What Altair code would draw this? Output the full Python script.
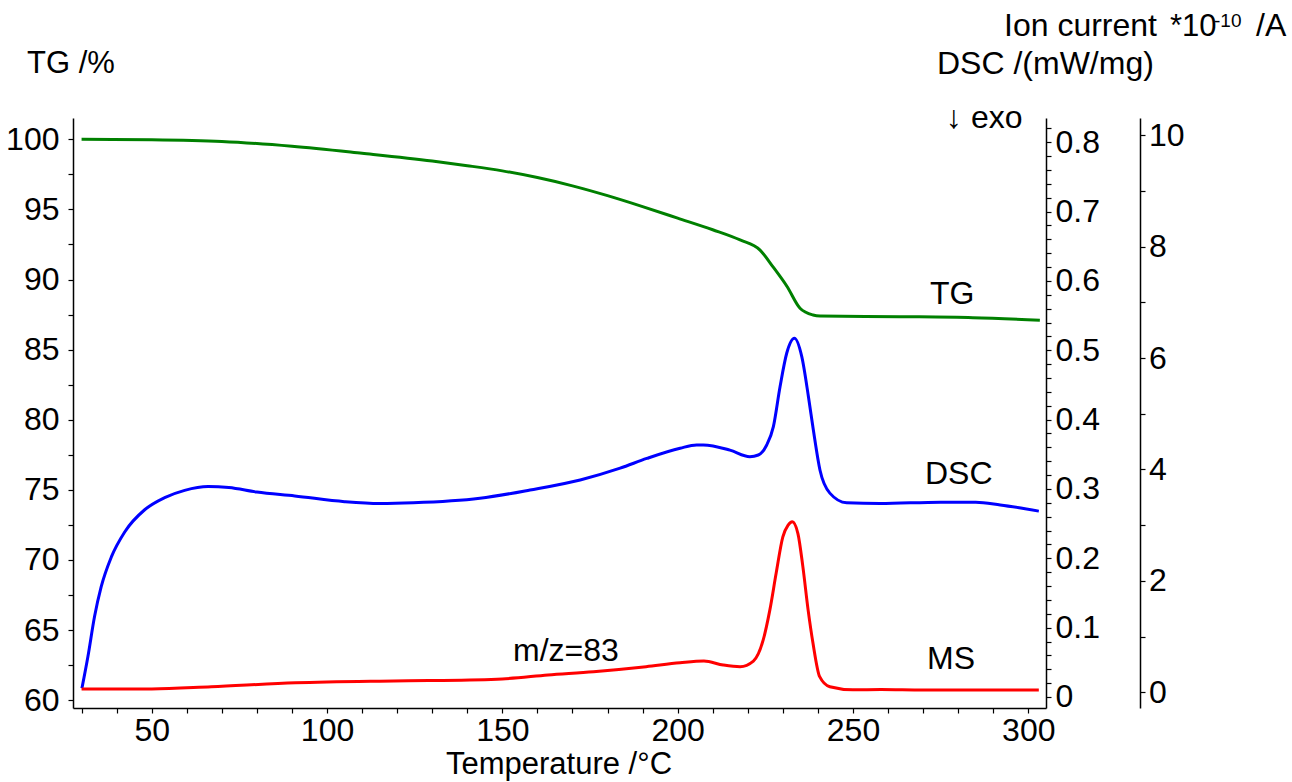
import altair as alt
import pandas as pd

FONT = "Liberation Sans"
FS = 32

# TG mass curve (%)
tg_temp = [30, 50, 70, 90, 110, 130, 140, 150, 160, 170, 180, 190, 200, 210, 217.8,
           223.5, 227.2, 231.2, 234.9, 238.6, 240.6, 263.4, 284.2, 303.3]
tg_mass = [100.0, 99.97, 99.85, 99.5, 99.0, 98.45, 98.12, 97.75, 97.27, 96.68, 95.98,
           95.2, 94.38, 93.55, 92.82, 92.1, 90.9, 89.5, 87.95, 87.47, 87.4, 87.35,
           87.28, 87.1]

# DSC heat flow (mW/mg)
dsc_temp = [30.1, 31.8, 33.7, 35.6, 38.5, 42.3, 48.0, 53.7, 59.4, 66.1, 72.0, 80.0,
            90.8, 105.0, 115.0, 124.6, 143.6, 157.9, 172.2, 183.6, 191.2, 200.7, 205.4,
            207.3, 214.9, 220.6, 223.0, 225.4, 227.3, 229.2, 231.1, 233.3, 235.4,
            237.3, 238.7, 240.6, 243.4, 248.2, 257.7, 275.0, 285.0, 292.0, 303.0]
dsc_flow = [0.0125, 0.058, 0.116, 0.159, 0.202, 0.238, 0.270, 0.2875, 0.298, 0.3035,
            0.302, 0.2955, 0.290, 0.2817, 0.279, 0.280, 0.2865, 0.2985, 0.313, 0.330,
            0.344, 0.3587, 0.3634, 0.3634, 0.356, 0.3466, 0.349, 0.3634, 0.390, 0.4475,
            0.4957, 0.5173, 0.4908, 0.433, 0.385, 0.327, 0.294, 0.280, 0.279, 0.281,
            0.281, 0.277, 0.268]

# MS ion current, m/z = 83 (*10^-10 A)
ms_temp = [30, 50, 67, 91, 115, 129, 150, 163, 176, 191, 200.7, 207.5, 213.0, 217.8,
           221.6, 224.4, 226.3, 228.1, 230.0, 231.5, 232.7, 234.3, 235.7, 237.2,
           238.6, 240.5, 243.4, 250.0, 258.0, 270.0, 290.0, 303.0]
ms_curr = [0.059, 0.059, 0.10, 0.17, 0.20, 0.21, 0.24, 0.31, 0.37, 0.46, 0.53, 0.56,
           0.49, 0.46, 0.56, 0.94, 1.48, 2.14, 2.79, 3.00, 3.06, 2.85, 2.26, 1.48,
           0.88, 0.28, 0.10, 0.045, 0.05, 0.04, 0.04, 0.04]

# Axis tick values
x_ticks = list(range(30, 301, 10))
tg_ticks = [60 + 2.5 * i for i in range(17)]
dsc_ticks = [round(0.02 * i, 2) for i in range(42)]
ms_ticks = list(range(0, 11))

tg_df = pd.DataFrame({"T": tg_temp, "v": tg_mass})
dsc_df = pd.DataFrame({"T": dsc_temp, "v": dsc_flow})
ms_df = pd.DataFrame({"T": ms_temp, "v": ms_curr})

x_enc = alt.X(
    "T:Q",
    scale=alt.Scale(domain=[27.555, 305.05], nice=False, zero=False),
    axis=alt.Axis(
        values=x_ticks,
        labelExpr="datum.value % 50 == 0 ? datum.label : ''",
        title=None,
        labelFlush=False,
        labelOverlap=False,
        labelPadding=2,
    ),
)

tg_line = alt.Chart(tg_df).mark_line(color="#008000", strokeWidth=3, interpolate="monotone").encode(
    x=x_enc,
    y=alt.Y(
        "v:Q",
        scale=alt.Scale(domain=[59.44, 101.52], nice=False, zero=False),
        axis=alt.Axis(
            orient="left",
            values=tg_ticks,
            labelExpr="datum.value % 5 == 0 ? datum.label : ''",
            title=None,
            labelOverlap=False,
            labelPadding=9,
        ),
    ),
)

dsc_line = alt.Chart(dsc_df).mark_line(color="#0000FF", strokeWidth=3, interpolate="monotone").encode(
    x=x_enc,
    y=alt.Y(
        "v:Q",
        scale=alt.Scale(domain=[-0.0159, 0.835], nice=False, zero=False),
        axis=alt.Axis(
            orient="right",
            values=dsc_ticks,
            labelExpr="round(datum.value * 100) % 10 == 0 ? format(datum.value, '~g') : ''",
            title=None,
            labelOverlap=False,
            labelPadding=4,
        ),
    ),
)

ms_line = alt.Chart(ms_df).mark_line(color="#FF0000", strokeWidth=3, interpolate="monotone").encode(
    x=x_enc,
    y=alt.Y(
        "v:Q",
        scale=alt.Scale(domain=[-0.282, 10.31], nice=False, zero=False),
        axis=alt.Axis(
            orient="right",
            offset=94,
            values=ms_ticks,
            labelExpr="datum.value % 2 == 0 ? datum.label : ''",
            title=None,
            labelOverlap=False,
            labelPadding=3.5,
        ),
    ),
)


def label(text, x, y, size=FS, align="left"):
    return alt.Chart(pd.DataFrame({"t": [text]})).mark_text(
        font=FONT, fontSize=size, color="black", align=align, baseline="alphabetic"
    ).encode(x=alt.value(x), y=alt.value(y), text="t:N")


texts = [
    label("TG /%", -46, -44.7, size=31),
    label("DSC /(mW/mg)", 864, -44),
    label("Ion current", 931, -82),
    label("*10", 1097, -82, size=31),
    label("-10", 1141, -91.3, size=19),
    label("/A", 1183, -82),
    label("\u2193 exo", 873, 10.3),
    label("Temperature /\u00b0C", 486, 656, size=31, align="center"),
    label("TG", 857, 186),
    label("DSC", 852, 366),
    label("MS", 854, 551),
    label("m/z=83", 440, 542.7),
]

chart = (
    alt.layer(tg_line, dsc_line, ms_line, *texts)
    .resolve_scale(y="independent")
    .properties(
        width=973,
        height=590,
        padding={"left": 73, "top": 118, "right": 246, "bottom": 74},
        autosize=alt.AutoSizeParams(type="none"),
        background="white",
    )
    .configure_view(stroke="transparent")
    .configure_axis(
        grid=False,
        labelFont=FONT,
        labelFontSize=FS,
        labelColor="black",
        domainColor="black",
        domainWidth=1.5,
        tickColor="black",
        tickWidth=1.2,
        tickSize=5,
    )
)

chart.save("out.html", embed_options={"renderer": "svg", "actions": False})
